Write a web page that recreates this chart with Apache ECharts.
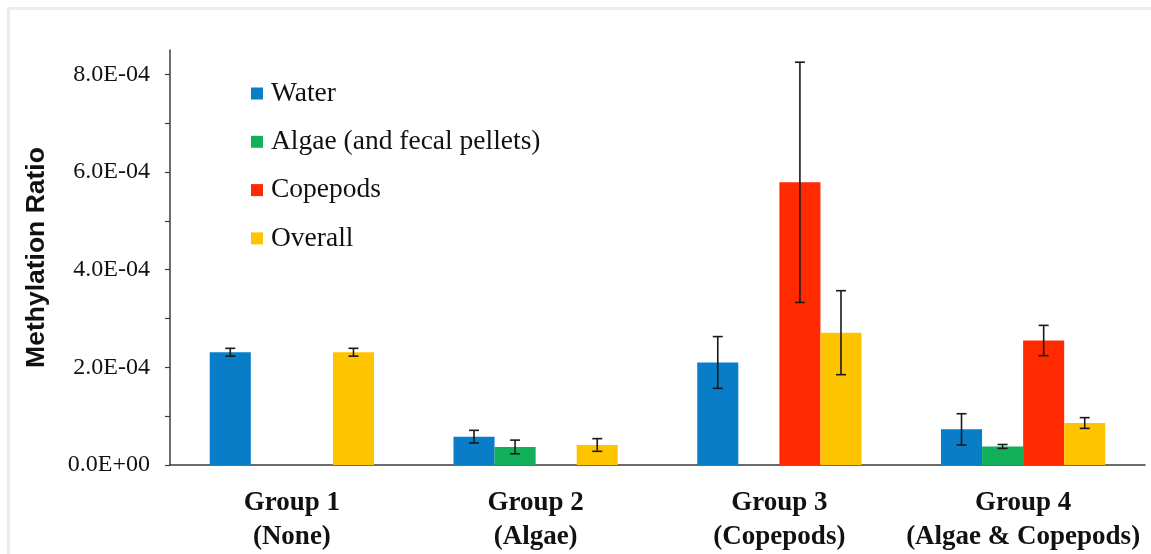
<!DOCTYPE html>
<html>
<head>
<meta charset="utf-8">
<script src="https://cdn.jsdelivr.net/npm/echarts@6/dist/echarts.min.js"></script>
<style>
  html, body { margin: 0; padding: 0; background: #ffffff; }
  #chart { width: 1151px; height: 554px; }
</style>
</head>
<body>
<div id="chart"></div>
<script>
// Groups along the x axis (two-line labels)
const categories = [
  'Group 1\n(None)',
  'Group 2\n(Algae)',
  'Group 3\n(Copepods)',
  'Group 4\n(Algae & Copepods)'
];

// Mean methylation ratio per sample type
const seriesNames = ['Water', 'Algae (and fecal pellets)', 'Copepods', 'Overall'];
const water     = [2.31e-4, 0.58e-4, 2.10e-4, 0.73e-4];
const algae     = [null,    0.37e-4, null,    0.38e-4];
const copepods  = [null,    null,    5.79e-4, 2.55e-4];
const overall   = [2.31e-4, 0.41e-4, 2.71e-4, 0.86e-4];

// Error-bar half-lengths (same order)
const waterErr    = [0.08e-4, 0.13e-4, 0.53e-4, 0.32e-4];
const algaeErr    = [null,    0.14e-4, null,    0.04e-4];
const copepodsErr = [null,    null,    2.46e-4, 0.31e-4];
const overallErr  = [0.08e-4, 0.13e-4, 0.86e-4, 0.11e-4];

// Y axis ticks and labels
const yTickValues  = [0, 1e-4, 2e-4, 3e-4, 4e-4, 5e-4, 6e-4, 7e-4, 8e-4];
const yLabelValues = [0, 2e-4, 4e-4, 6e-4, 8e-4];
const yLabelTexts  = ['0.0E+00', '2.0E-04', '4.0E-04', '6.0E-04', '8.0E-04'];

const colors = ['#0a7dc9', '#12b05a', '#ff2a00', '#ffc400'];
const means = [water, algae, copepods, overall];
const errs  = [waterErr, algaeErr, copepodsErr, overallErr];

const CATEGORY_GAP = 0.326;
const NUM_SERIES = means.length;

function errorBarSeries(s) {
  const data = [];
  means[s].forEach((m, i) => {
    if (m != null && errs[s][i] != null) data.push([i, m, errs[s][i]]);
  });
  return {
    type: 'custom',
    name: seriesNames[s] + ' error',
    z: 10,
    silent: true,
    data: data,
    renderItem: function (params, api) {
      const idx = api.value(0);
      const m = api.value(1);
      const e = api.value(2);
      const band = api.size([1, 0])[0];
      const bw = band * (1 - CATEGORY_GAP) / NUM_SERIES;
      const cx = api.coord([idx, m])[0] + (s - (NUM_SERIES - 1) / 2) * bw;
      const yTop = api.coord([idx, m + e])[1];
      const yBot = api.coord([idx, m - e])[1];
      const half = 5;
      const style = { stroke: '#1a1a1a', lineWidth: 1.6 };
      return {
        type: 'group',
        children: [
          { type: 'line', shape: { x1: cx, y1: yTop, x2: cx, y2: yBot }, style: style },
          { type: 'line', shape: { x1: cx - half, y1: yTop, x2: cx + half, y2: yTop }, style: style },
          { type: 'line', shape: { x1: cx - half, y1: yBot, x2: cx + half, y2: yBot }, style: style }
        ]
      };
    }
  };
}

const barSeries = means.map((arr, s) => ({
  type: 'bar',
  name: seriesNames[s],
  data: arr,
  barGap: '0%',
  barCategoryGap: (CATEGORY_GAP * 100) + '%',
  itemStyle: { color: colors[s] }
}));

const chart = echarts.init(document.getElementById('chart'), null, { renderer: 'canvas' });

chart.setOption({
  animation: false,
  backgroundColor: '#ffffff',
  color: colors,
  graphic: [{
    type: 'rect',
    left: 6, top: 6,
    shape: { width: 1160, height: 560 },
    style: { fill: 'none', stroke: '#ececec', lineWidth: 3 },
    silent: true,
    z: -1
  }],
  grid: { left: 170, right: 6, top: 50, bottom: 88.5, containLabel: false },
  legend: {
    data: seriesNames,
    orient: 'vertical',
    left: 251,
    top: 79,
    padding: 0,
    itemWidth: 12,
    itemHeight: 12,
    itemGap: 19.3,
    icon: 'rect',
    textStyle: {
      fontFamily: 'Liberation Serif',
      fontSize: 27.5,
      lineHeight: 29,
      color: '#111111',
      padding: [0, 0, 0, 3]
    }
  },
  xAxis: {
    type: 'category',
    data: categories,
    axisLine: { lineStyle: { color: '#3c3c3c', width: 1.5 } },
    axisTick: { show: false },
    axisLabel: {
      interval: 0,
      margin: 21,
      fontFamily: 'Liberation Serif',
      fontWeight: 'bold',
      fontSize: 27,
      lineHeight: 34,
      color: '#111111'
    }
  },
  yAxis: {
    type: 'value',
    min: 0,
    max: 8.5e-4,
    name: 'Methylation Ratio',
    nameLocation: 'middle',
    nameRotate: 90,
    nameGap: 120,
    nameTextStyle: {
      fontFamily: 'Liberation Sans',
      fontWeight: 'bold',
      fontSize: 26.5,
      color: '#111111'
    },
    splitLine: { show: false },
    axisLine: { show: true, lineStyle: { color: '#3c3c3c', width: 1.5 } },
    axisTick: {
      show: true,
      inside: false,
      length: 5,
      customValues: yTickValues,
      lineStyle: { color: '#3c3c3c', width: 1.2 }
    },
    axisLabel: {
      margin: 20,
      customValues: yLabelValues,
      fontFamily: 'Liberation Serif',
      fontSize: 24,
      color: '#111111',
      formatter: function (v) {
        const i = yLabelValues.findIndex(x => Math.abs(x - v) < 1e-9);
        return i >= 0 ? yLabelTexts[i] : '';
      }
    }
  },
  series: barSeries.concat(means.map((_, s) => errorBarSeries(s)))
});
</script>
</body>
</html>
